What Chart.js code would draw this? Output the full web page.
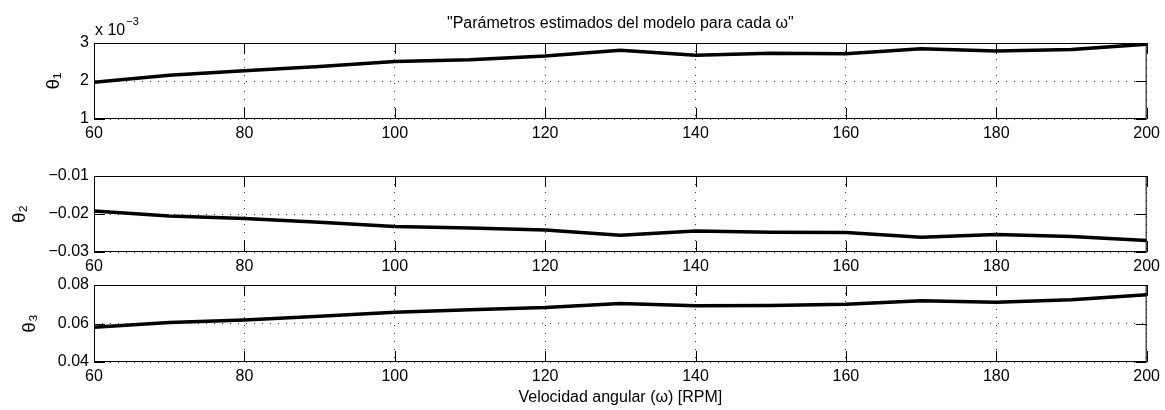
<!DOCTYPE html>
<html>
<head>
<meta charset="utf-8">
<script src="https://cdn.jsdelivr.net/npm/chart.js@4.4.0/dist/chart.umd.min.js"></script>
<style>
  body { margin: 0; background: #fff; }
  #wrap { position: relative; width: 1165px; height: 410px; }
  canvas { position: absolute; left: 0; }
</style>
</head>
<body>
<div id="wrap">
  <canvas id="c1" width="1165" height="145" style="top:0px"></canvas>
  <canvas id="c2" width="1165" height="140" style="top:140px"></canvas>
  <canvas id="c3" width="1165" height="150" style="top:260px"></canvas>
</div>
<script>
// velocidad angular (RPM)
const omega = [60, 70, 80, 90, 100, 110, 120, 130, 140, 150, 160, 170, 180, 190, 200];
// parametros estimados
const theta1 = [0.00197, 0.00215, 0.00227, 0.00238, 0.00251, 0.00256, 0.00266, 0.00281, 0.00268, 0.00273, 0.00272, 0.00285, 0.00279, 0.00283, 0.00297];
const theta2 = [-0.0192, -0.0205, -0.0212, -0.0222, -0.0233, -0.0237, -0.0242, -0.0256, -0.0245, -0.0248, -0.0249, -0.0261, -0.0254, -0.0259, -0.0270];
const theta3 = [0.0580, 0.0605, 0.0618, 0.0638, 0.0659, 0.0671, 0.0683, 0.0704, 0.0692, 0.0694, 0.0700, 0.0718, 0.0711, 0.0723, 0.0749];

const xTicks = [60, 80, 100, 120, 140, 160, 180, 200];
const titulo = '"Parámetros estimados del modelo para cada ω"';
const xLabel = 'Velocidad angular (ω) [RPM]';

Chart.defaults.font.family = '"Liberation Sans", Arial, Helvetica, sans-serif';
Chart.defaults.font.size = 16;
Chart.defaults.color = '#000';

const minus = s => s.replace('-', '\u2212');

// caja y marcas hacia dentro, estilo matlab
const cajaMatlab = {
  id: 'cajaMatlab',
  afterDatasetsDraw(chart) {
    const { ctx, chartArea: a, scales: { x, y } } = chart;
    const tl = 11;
    ctx.save();
    ctx.strokeStyle = '#000';
    ctx.lineWidth = 1;
    ctx.strokeRect(a.left + 0.5, a.top + 0.5, a.width - 1, a.height - 1);
    ctx.beginPath();
    x.ticks.forEach(t => {
      const px = Math.round(x.getPixelForValue(t.value)) + 0.5;
      ctx.moveTo(px, a.bottom); ctx.lineTo(px, a.bottom - tl);
      ctx.moveTo(px, a.top); ctx.lineTo(px, a.top + tl);
    });
    y.ticks.forEach(t => {
      const py = Math.round(y.getPixelForValue(t.value)) + 0.5;
      ctx.moveTo(a.left, py); ctx.lineTo(a.left + tl, py);
      ctx.moveTo(a.right, py); ctx.lineTo(a.right - tl, py);
    });
    ctx.stroke();
    ctx.restore();
  }
};

const textosArriba = {
  id: 'textosArriba',
  afterDraw(chart) {
    const { ctx, chartArea: a } = chart;
    ctx.save();
    ctx.fillStyle = '#000';
    ctx.font = '16px "Liberation Sans", Arial, sans-serif';
    ctx.textAlign = 'center';
    ctx.textBaseline = 'alphabetic';
    ctx.fillText(titulo, (a.left + a.right) / 2, 28);
    ctx.textAlign = 'left';
    ctx.fillText('x 10', a.left + 1, 35);
    const w = ctx.measureText('x 10').width;
    ctx.font = '11px "Liberation Sans", Arial, sans-serif';
    ctx.fillText('\u22123', a.left + 2 + w, 25);
    ctx.restore();
  }
};

function makeChart(id, data, yOpts, pad, xHeight, yTitle, yTitlePad, withXTitle, extraPlugins) {
  return new Chart(document.getElementById(id), {
    type: 'line',
    data: {
      datasets: [{
        data: omega.map((w, i) => ({ x: w, y: data[i] })),
        borderColor: '#000',
        borderWidth: 3.5,
        pointRadius: 0,
        tension: 0,
        fill: false
      }]
    },
    options: {
      responsive: false,
      animation: false,
      layout: { padding: { top: pad.top, bottom: pad.bottom, left: 0, right: 17 } },
      plugins: { legend: { display: false }, tooltip: { enabled: false } },
      scales: {
        x: {
          type: 'linear',
          min: 60,
          max: 200,
          afterBuildTicks: s => { s.ticks = xTicks.map(v => ({ value: v })); },
          afterFit: s => { s.height = xHeight; },
          ticks: { padding: 5, maxRotation: 0, callback: v => String(v) },
          grid: { color: '#333', lineWidth: 1, drawTicks: false },
          border: { display: false, dash: [1, 7] },
          title: {
            display: withXTitle,
            text: xLabel,
            padding: { top: 0, bottom: 3 }
          }
        },
        y: {
          min: yOpts.min,
          max: yOpts.max,
          afterBuildTicks: s => { s.ticks = yOpts.ticks.map(v => ({ value: v })); },
          afterFit: s => { s.width = 94; },
          ticks: { padding: 5, callback: yOpts.fmt },
          grid: { color: '#333', lineWidth: 1, drawTicks: false },
          border: { display: false, dash: [1, 7] },
          title: { display: true, text: yTitle, font: { size: 19 }, padding: { top: yTitlePad, bottom: 0 } }
        }
      }
    },
    plugins: [cajaMatlab].concat(extraPlugins || [])
  });
}

makeChart('c1', theta1,
  { min: 0.001, max: 0.003, ticks: [0.001, 0.002, 0.003], fmt: v => String(Math.round(v * 1000)) },
  { top: 43, bottom: 6 }, 20, 'θ\u2081', 42, false, [textosArriba]);

makeChart('c2', theta2,
  { min: -0.03, max: -0.01, ticks: [-0.03, -0.02, -0.01], fmt: v => minus(v.toFixed(2)) },
  { top: 36, bottom: 8 }, 20, 'θ\u2082', 8, false);

makeChart('c3', theta3,
  { min: 0.04, max: 0.08, ticks: [0.04, 0.06, 0.08], fmt: v => v.toFixed(2) },
  { top: 25, bottom: 0 }, 48, 'θ\u2083', 18, true);
</script>
</body>
</html>
